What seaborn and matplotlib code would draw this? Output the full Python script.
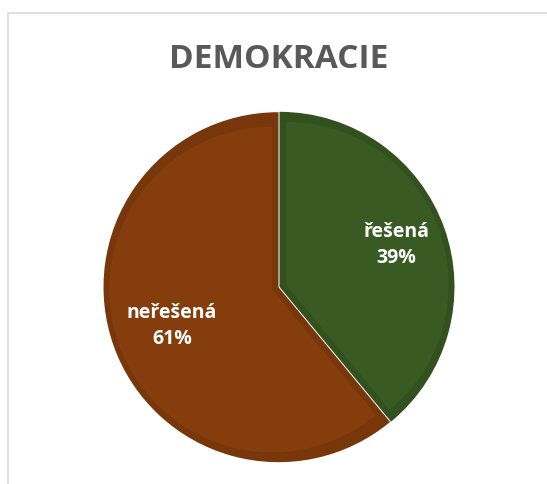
import matplotlib
matplotlib.use("Agg")
import matplotlib.pyplot as plt
import seaborn as sns
from matplotlib.patches import Rectangle

sns.set_theme(style="white")
plt.rcParams['font.family'] = ['Open Sans', 'DejaVu Sans']

# data
labels = ["řešená", "neřešená"]
values = [39, 61]
colors = ["#3A5A24", "#853D0E"]
edge_colors = ["#33501F", "#78370B"]

fig = plt.figure(figsize=(5.47, 4.84), dpi=100)
fig.patch.set_facecolor("white")

# light chart frame (runs off right and bottom)
fig.patches.append(Rectangle((7.5 / 547, -0.1), 1.2, 1.1 - 12.5 / 484,
                             transform=fig.transFigure, fill=False,
                             edgecolor="#d9d9d9", linewidth=1.2))

fig.text(279 / 547, 1 - 59 / 484, "DEMOKRACIE", ha="center", va="center",
         fontsize=24, fontweight="bold", color="#595959")

ax = fig.add_axes([(279 - 175) / 547, (197 - 175) / 484, 350 / 547, 350 / 484])

# darker rim of each slice, tiny explode leaves a thin white gap
ax.pie(values, colors=edge_colors, startangle=90, counterclock=False,
       explode=[0.003, 0.003], wedgeprops=dict(linewidth=0))

# lighter inner part of each slice
wedges, texts, autotexts = ax.pie(values, colors=colors, startangle=90, counterclock=False,
                                  radius=0.93, explode=[0.042, 0.042],
                                  autopct="%1.0f%%", pctdistance=0.7,
                                  wedgeprops=dict(linewidth=0))

# label distance from the pie centre, per slice
label_r = [0.71, 0.65]
for t, name, v, r in zip(autotexts, labels, values, label_r):
    x, y = t.get_position()
    k = r / (x ** 2 + y ** 2) ** 0.5
    t.set_position((x * k, y * k))
    t.set_text(f"{name}\n{v}%")
    t.set_color("white")
    t.set_fontsize(14)
    t.set_fontweight("bold")
    t.set_linespacing(1.4)
    t.set_ha("center")
    t.set_va("center")

ax.set_xlim(-1, 1)
ax.set_ylim(-1, 1)
ax.axis("off")

fig.savefig("out.png", dpi=100, facecolor="white")
